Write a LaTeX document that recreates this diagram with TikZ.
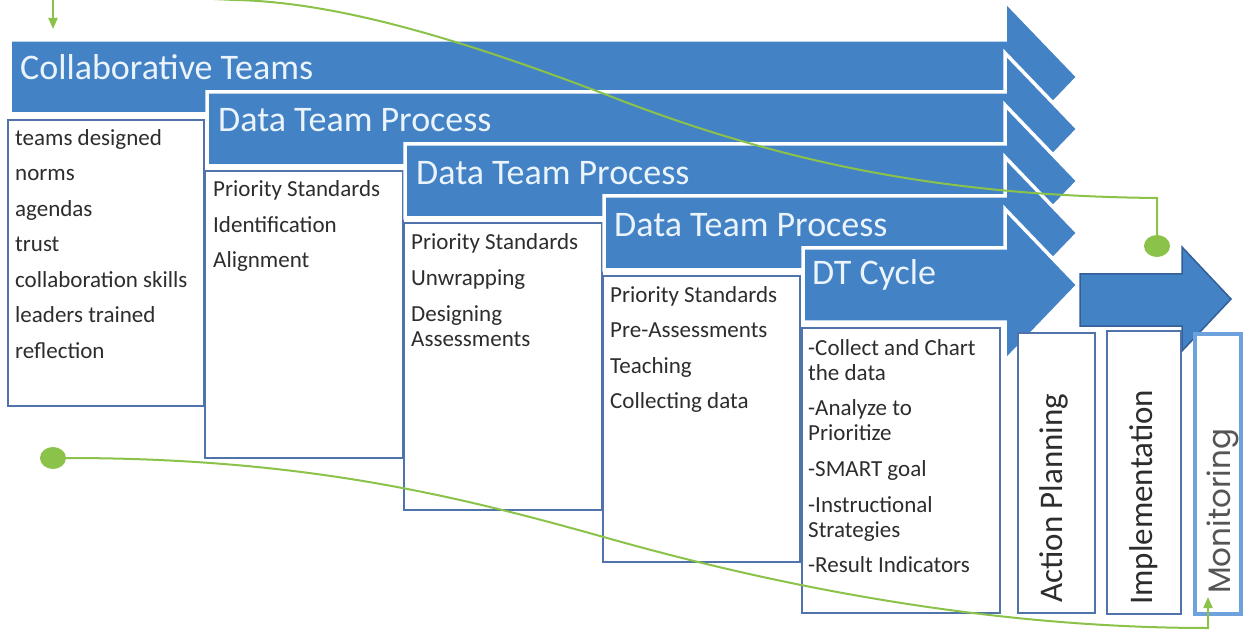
\documentclass[tikz,border=0pt]{standalone}
\usepackage{fontspec}
\setmainfont{Carlito}
\newfontfamily\monfont{Poppins}
\usetikzlibrary{arrows.meta,shapes.geometric}
\definecolor{arrowblue}{RGB}{66,130,197}
\definecolor{boxline}{RGB}{80,115,172}
\definecolor{monline}{RGB}{110,162,220}
\definecolor{connectgreen}{RGB}{139,195,74}
\definecolor{itemtext}{RGB}{45,45,45}
\definecolor{montext}{RGB}{85,85,85}
\definecolor{headtext}{RGB}{235,244,252}
\definecolor{smallarrowline}{RGB}{50,95,150}
\newcommand{\procarrow}[2]{\path[bigarrow] (#1,#2) -- (1005,#2) -- (1005,{#2+37-76}) -- (1078,{#2+37}) -- (1005,{#2+37+76}) -- (1005,{#2+74}) -- (#1,{#2+74}) -- cycle;}
\tikzset{
  bigarrow/.style={fill=arrowblue, draw=white, line width=3.5pt, line join=miter},
  textbox/.style={fill=white, draw=boxline, line width=2.8pt},
  headtxt/.style={anchor=base west, inner sep=0pt, text=headtext, font=\fontsize{36}{40}\selectfont},
  itemtxt/.style={anchor=base west, inner sep=0pt, text=itemtext, font=\fontsize{23}{25}\selectfont},
  verttxt/.style={anchor=base west, inner sep=0pt, rotate=90, text=itemtext, font=\fontsize{33}{36}\selectfont},
  greenline/.style={draw=connectgreen, line width=2pt},
  greendot/.style={ellipse, fill=connectgreen, minimum width=26pt, minimum height=22pt, inner sep=0pt},
  greentip/.style={-{Triangle[length=11pt,width=9pt]}}
}
\begin{document}
\begin{tikzpicture}[x=1pt,y=-1pt]
\clip (0,0) rectangle (1243,639);
\fill[white] (0,0) rectangle (1243,639);

% arrow 1 + box 1
\procarrow{10}{40}
\node[headtxt] (h1) at (20,80) {Collaborative Teams};
\path[textbox] (8,120) rectangle (204,406);
\foreach \t [count=\i from 0] in {teams designed,norms,agendas,trust,collaboration skills,leaders trained,reflection}
  \node[itemtxt] (b1-\i) at (15,{145.5+35.5*\i}) {\t};

% arrow 2 + box 2
\procarrow{207}{92}
\node[headtxt] (h2) at (218,132) {Data Team Process};
\path[textbox] (205,171) rectangle (403,458);
\node[itemtxt] (b2-0) at (213,197) {Priority Standards};
\node[itemtxt] (b2-1) at (213,232.5) {Identification};
\node[itemtxt] (b2-2) at (213,268) {Alignment};

% arrow 3 + box 3
\procarrow{405}{144}
\node[headtxt] (h3) at (416,185) {Data Team Process};
\path[textbox] (404,223) rectangle (602,510);
\node[itemtxt] (b3-0) at (411,250) {Priority Standards};
\node[itemtxt] (b3-1) at (411,285.5) {Unwrapping};
\node[itemtxt] (b3-2) at (411,321) {Designing};
\node[itemtxt] (b3-3) at (411,346) {Assessments};

% arrow 4 + box 4
\procarrow{604}{196}
\node[headtxt] (h4) at (614,237) {Data Team Process};
\path[textbox] (603,276) rectangle (800,562);
\node[itemtxt] (b4-0) at (610,302) {Priority Standards};
\node[itemtxt] (b4-1) at (610,337.5) {Pre-Assessments};
\node[itemtxt] (b4-2) at (610,373) {Teaching};
\node[itemtxt] (b4-3) at (610,408.5) {Collecting data};

% arrow 5 + box 5
\procarrow{803}{248}
\node[headtxt] (h5) at (812,285) {DT Cycle};
\path[textbox] (802,328) rectangle (1000,613);
\node[itemtxt] (b5-0) at (808,355) {-Collect and Chart};
\node[itemtxt] (b5-1) at (808,380) {the data};
\node[itemtxt] (b5-2) at (808,415) {-Analyze to};
\node[itemtxt] (b5-3) at (808,440) {Prioritize};
\node[itemtxt] (b5-4) at (808,476.5) {-SMART goal};
\node[itemtxt] (b5-5) at (808,512) {-Instructional};
\node[itemtxt] (b5-6) at (808,537) {Strategies};
\node[itemtxt] (b5-7) at (808,572) {-Result Indicators};

% small arrow
\path[fill=arrowblue, draw=smallarrowline, line width=1.5pt, line join=miter]
  (1080,274) -- (1182,274) -- (1182,247) -- (1231,299) -- (1182,351) -- (1182,326) -- (1080,326) -- cycle;

% vertical boxes
\path[textbox] (1018,333) rectangle (1095,613);
\node[verttxt] (ap) at (1062,603) {Action Planning};
\path[textbox] (1107,331) rectangle (1181,614);
\node[verttxt] (im) at (1152,605) {Implementation};
\path[fill=white, draw=monline, line width=4pt] (1195,334) rectangle (1241,614);
\node[verttxt, text=montext, font=\monfont\fontsize{31}{34}\selectfont] (mo) at (1230,594) {Monitoring};

% green connectors
\node[greendot] (dotA) at (1157,246) {};
\node[greendot] (dotB) at (53,458) {};
\coordinate (topout) at (150,-4);
\coordinate (tlsrc) at (53,-10);
\coordinate (tlend) at (53,29);
\coordinate (monin) at (1208,597);

\draw[greenline] (dotA.center) -- (1157,198)
  .. controls (950,196) and (790,165) .. (620,100)
  .. controls (470,42) and (340,2) .. (235,0) -- (topout);
\draw[greenline, greentip] (tlsrc) -- (tlend);
\draw[greenline, greentip] (dotB.center) -- (66,458)
  .. controls (300,458) and (450,494) .. (600,536)
  .. controls (720,570) and (950,628) .. (1208,628) -- (monin);
\end{tikzpicture}
\end{document}
